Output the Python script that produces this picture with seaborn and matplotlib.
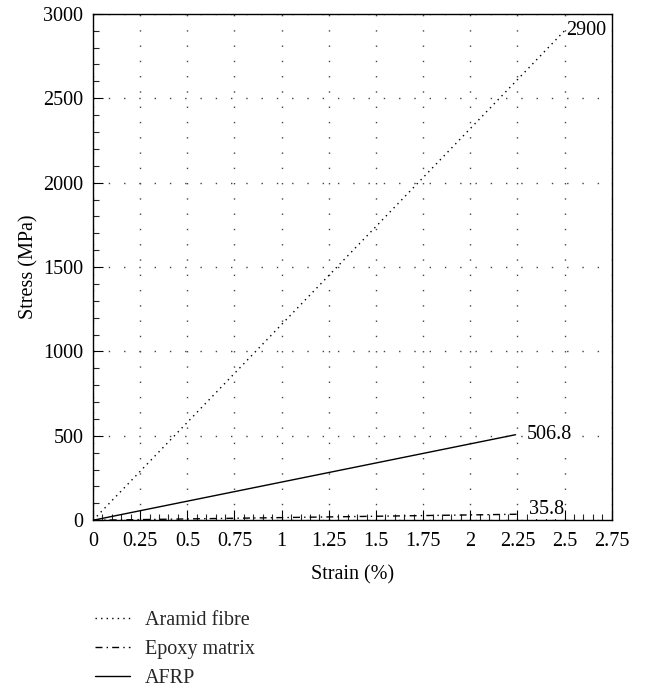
import numpy as np
import pandas as pd
import matplotlib
matplotlib.use("Agg")
import matplotlib.pyplot as plt
import seaborn as sns
from matplotlib.ticker import MultipleLocator

series = ["Aramid fibre", "Epoxy matrix", "AFRP"]
end_strain = [2.50, 2.26, 2.24]
end_stress = [2900.0, 35.8, 506.8]
end_labels = ["2900", "35.8", "506.8"]
x_ticks = [0, 0.25, 0.5, 0.75, 1, 1.25, 1.5, 1.75, 2, 2.25, 2.5, 2.75]
x_tick_labels = ["0", "0.25", "0.5", "0.75", "1", "1.25", "1.5", "1.75", "2", "2.25", "2.5", "2.75"]
y_ticks = [0, 500, 1000, 1500, 2000, 2500, 3000]

rows = []
for name, sx, sy in zip(series, end_strain, end_stress):
    rows.append({"Material": name, "Strain": 0.0, "Stress": 0.0})
    rows.append({"Material": name, "Strain": sx, "Stress": sy})
df = pd.DataFrame(rows)

sns.set_theme(style="white")
plt.rcParams["font.family"] = ["Liberation Serif", "DejaVu Serif"]
FS = 14.5

fig = plt.figure(figsize=(6.46, 6.90), dpi=100)
ax = fig.add_axes([0.144, 0.246, 0.803, 0.734])

sns.lineplot(data=df, x="Strain", y="Stress", hue="Material", style="Material",
             palette={s: "black" for s in series},
             dashes={"Aramid fibre": (1, 3), "Epoxy matrix": (5, 3, 1, 3), "AFRP": ""},
             linewidth=1.0, ax=ax, legend=True, estimator=None, sort=False)

ax.set_xlim(0, 2.75)
ax.set_ylim(0, 3000)
ax.set_xticks(x_ticks)
ax.set_xticklabels(x_tick_labels)
ax.set_yticks(y_ticks)
ax.xaxis.set_minor_locator(MultipleLocator(0.05))
ax.yaxis.set_minor_locator(MultipleLocator(100))
ax.tick_params(axis="x", which="major", pad=8.5)
ax.tick_params(axis="y", which="major", pad=7)
ax.tick_params(axis="both", which="major", direction="in", length=7, width=0.8,
               labelsize=FS, colors="black")
ax.tick_params(axis="both", which="minor", direction="in", length=4, width=0.8)
ax.tick_params(bottom=True, left=True, which="both")
ax.grid(True, which="major", linestyle=(0, (1, 10)), color="#444444", linewidth=1.0)
for sp in ax.spines.values():
    sp.set_color("black")
    sp.set_linewidth(1.0)
ax.set_xlabel("Strain (%)", fontsize=FS, color="black", labelpad=10.5)
ax.set_ylabel("Stress (MPa)", fontsize=FS, color="black", labelpad=3.5)

offsets = {"Aramid fibre": (0.01, 0), "Epoxy matrix": (0.05, 30), "AFRP": (0.06, 0)}
for name, sx, sy, lab in zip(series, end_strain, end_stress, end_labels):
    dx, dy = offsets[name]
    ax.text(sx + dx, sy + dy, lab, fontsize=FS, ha="left", va="center", color="black",
            bbox=dict(facecolor="white", edgecolor="none", pad=0.5) if name != "Aramid fibre" else None)

handles, labels = ax.get_legend_handles_labels()
ax.legend(handles, labels, loc="upper left", bbox_to_anchor=(0.131, 0.129),
          bbox_transform=fig.transFigure, frameon=False, fontsize=FS,
          handlelength=1.75, handletextpad=0.75, labelspacing=0.5, borderpad=0)

fig.savefig("out.png", dpi=100, facecolor="white")
